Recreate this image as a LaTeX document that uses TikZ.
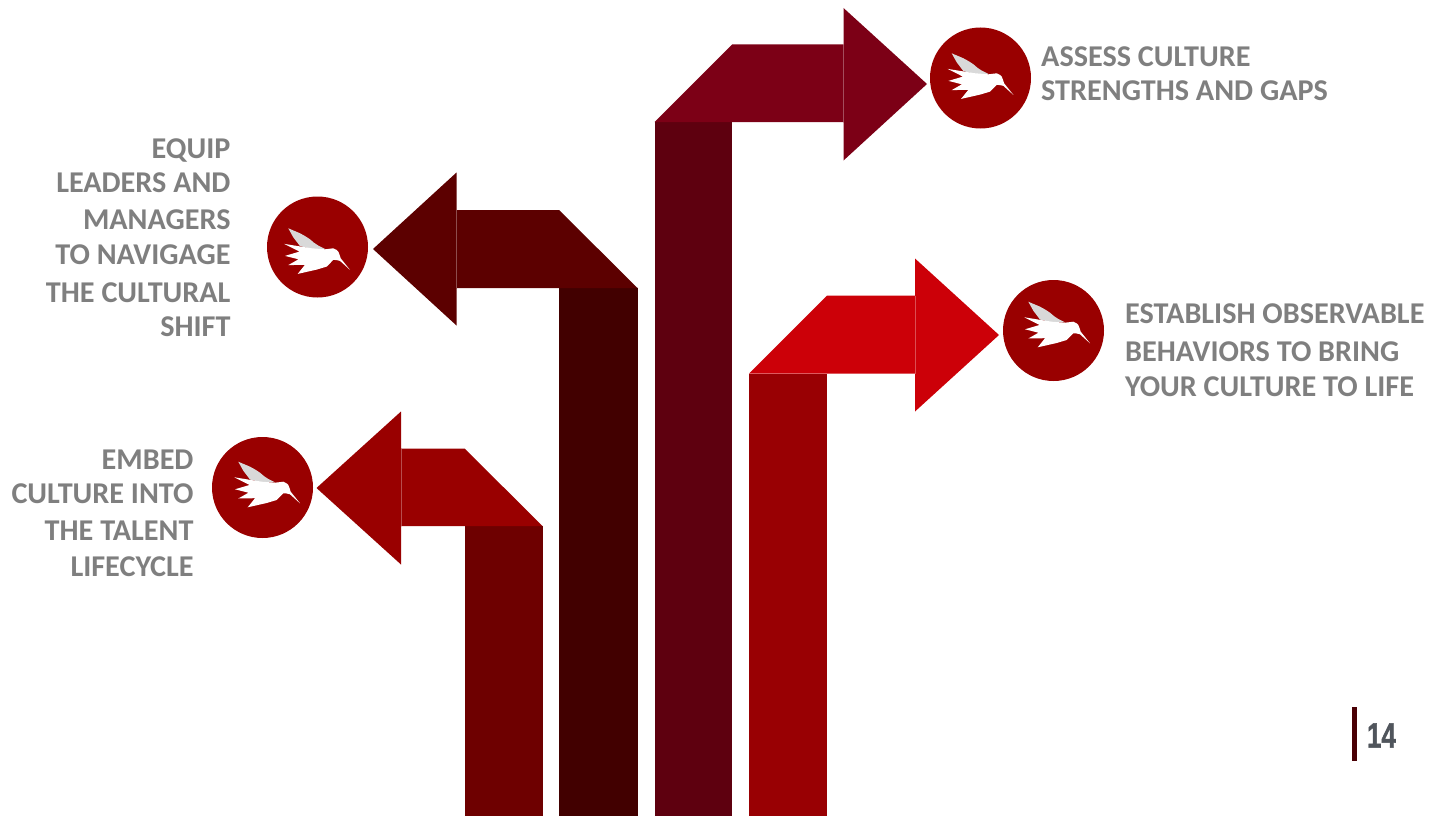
\documentclass[tikz,border=0pt]{standalone}
\usepackage{fontspec}
\setmainfont{Carlito}
\newfontfamily\numfont[BoldFeatures={FakeBold=1.6}]{Liberation Sans}
\tikzset{
  x=1pt,y=-1pt,
  seal/.style={circle,fill=sealred,draw=none,minimum size=101pt,inner sep=0pt},
  label/.style={inner sep=0pt,text=labelgray,font=\fontsize{30.2}{34}\selectfont\bfseries},
  labelr/.style={label,align=right,anchor=north east},
  labell/.style={label,align=left,anchor=north west},
  seam/.style={white,opacity=0.3,line width=0.6pt},
  pics/bird/.style={code={
    \fill[birdgray] (-29.2,-24.3) .. controls (-24,-22) and (-20,-20.5) .. (-17.5,-19.3) .. controls (-13,-17) and (-10,-15) .. (-7.5,-13.3) .. controls (-5,-11) and (-2,-8.5) .. (0.8,-7) -- (7.5,-3.7) -- (-5.8,-3.5) -- (-17.5,-6.5) -- (-24.2,-15.3) -- cycle;
    \fill[white] (-33.2,-8.7) -- (-20.8,-6.7) -- (-5.8,-4.3) -- (7.5,-3.3) -- (15.8,-4.3) .. controls (18.5,-3.5) and (20,-2) .. (20.8,-1) .. controls (22,1.5) and (22.5,3.5) .. (23.2,5.7) -- (32.5,17.3) -- (22.5,8.3) .. controls (20,7.5) and (18,7.2) .. (15.8,7.3) .. controls (13,10) and (11,12.5) .. (9.2,14) -- (-0.8,17) -- (-19.8,21.3) -- (-12.5,12.2) -- (-29.2,12.5) -- (-19,6.7) -- (-32.5,3.3) -- (-18,-1) -- cycle;
  }}
}
\definecolor{sealred}{HTML}{990000}
\definecolor{labelgray}{HTML}{7F7F7F}
\definecolor{birdgray}{HTML}{D9D9D9}
\definecolor{headA}{HTML}{7C0016}
\definecolor{shaftA}{HTML}{5E000F}
\definecolor{headB}{HTML}{CC0008}
\definecolor{shaftB}{HTML}{990003}
\definecolor{headC}{HTML}{5C0000}
\definecolor{shaftC}{HTML}{420000}
\definecolor{headD}{HTML}{990000}
\definecolor{shaftD}{HTML}{6E0000}
\definecolor{numgray}{HTML}{50555C}
\begin{document}
\begin{tikzpicture}
\useasboundingbox (0,0) rectangle (1433,816);
% top right arrow
\fill[shaftA] (654.5,122) rectangle (732,816);
\fill[headA] (654.5,122) -- (732,44.5) -- (843.5,44.5) -- (843.5,8) -- (927,84) -- (843.5,160.5) -- (843.5,122) -- cycle;
\draw[seam] (843.5,44.5) -- (843.5,122);
% lower right arrow
\fill[shaftB] (749,373.5) rectangle (827,816);
\fill[headB] (749,373.5) -- (827,295.5) -- (915,295.5) -- (915,258.5) -- (999,335) -- (915,411.5) -- (915,373.5) -- cycle;
\draw[seam] (915,295.5) -- (915,373.5);
% upper left arrow
\fill[shaftC] (559,288) rectangle (637.5,816);
\fill[headC] (637.5,288) -- (559,210) -- (456.5,210) -- (456.5,172.5) -- (373,249) -- (456.5,325.5) -- (456.5,288) -- cycle;
\draw[seam] (456.5,210) -- (456.5,288);
% lower left arrow
\fill[shaftD] (464.5,526) rectangle (542.5,816);
\fill[headD] (542.5,526) -- (464.5,448.5) -- (401,448.5) -- (401,411.5) -- (316.5,488) -- (401,564.5) -- (401,526) -- cycle;
\draw[seam] (401,448.5) -- (401,526);
% seals
\node[seal] (sealA) at (980.5,78) {};
\pic at ([shift={(0.4,-0.4)}]sealA.center) {bird};
\node[seal] (sealB) at (1053.5,330.5) {};
\pic at ([shift={(4,-4.5)}]sealB.center) {bird};
\node[seal] (sealC) at (317.5,247) {};
\pic at ([shift={(0,5.6)}]sealC.center) {bird};
\node[seal] (sealD) at (262.5,487.5) {};
\pic at ([shift={(5,-1.5)}]sealD.center) {bird};
% labels
\node[labell] (textA) at (1041,46.2) {ASSESS CULTURE\\STRENGTHS AND GAPS};
\node[labell] (textB) at (1125,303.2) {ESTABLISH OBSERVABLE\\[4pt]BEHAVIORS TO BRING\\[1pt]YOUR CULTURE TO LIFE};
\node[labelr] (textC) at (230.7,138.2) {EQUIP\\LEADERS AND\\[3pt]MANAGERS\\[1pt]TO NAVIGAGE\\[4pt]THE CULTURAL\\SHIFT};
\node[labelr] (textD) at (193.7,450) {EMBED\\CULTURE INTO\\[3pt]THE TALENT\\[2pt]LIFECYCLE};
% page number
\fill[shaftC!70!shaftA] (1351.5,707) rectangle (1356.5,760.5);
\node[inner sep=0pt,text=numgray,font=\numfont\bfseries\fontsize{35}{35}\selectfont,xscale=0.74,transform shape] (pagenum) at (1381.5,735.5) {14};
\end{tikzpicture}
\end{document}
